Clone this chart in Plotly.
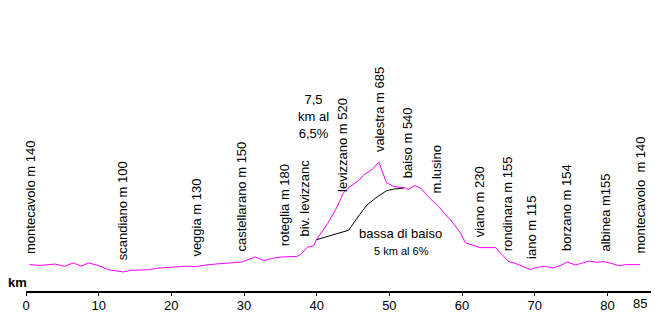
import plotly.graph_objects as go

# Main route profile (km, metres)
route_km = [0.5, 1.97, 4.03, 5.34, 6.5, 7.6, 8.6, 9.9, 11.4, 13.4, 14.35, 16.9, 18.0, 20.8,
            22.15, 23.3, 24.9, 26.7, 29.7, 31.55, 32.7, 34.1, 35.2, 37.3, 37.9, 38.7, 39.6,
            39.95, 41.5, 42.6, 43.7, 44.5, 45.3, 45.9, 46.5, 47.6, 48.55, 49.6, 50.6, 51.8,
            52.2, 52.6, 53.5, 54.4, 55.6, 56.8, 57.5, 58.4, 59.1, 59.8, 60.45, 61.4, 62.5,
            64.6, 66.4, 67.3, 69.4, 70.5, 71.5, 72.5, 73.6, 74.5, 75.6, 77.5, 78.5, 79.6,
            80.7, 81.7, 82.5, 84.5]
route_elev = [141, 137, 144, 132, 150, 133, 150, 137, 113, 102, 110, 114, 122, 127,
              133, 130, 140, 146, 155, 182, 162, 176, 182, 185, 199, 234, 242,
              274, 360, 435, 526, 555, 578, 595, 622, 649, 689, 579, 559, 551,
              551, 542, 565, 547, 494, 452, 417, 381, 345, 310, 258, 244, 232,
              232, 158, 148, 115, 128, 132, 123, 137, 155, 139, 160, 154, 157,
              146, 135, 141, 141]

# Alternative route via bassa di baiso
alt_km = [39.95, 44.4, 45.9, 46.9, 48.1, 49.6, 50.6, 52.05]
alt_elev = [274, 325, 408, 459, 497, 536, 545, 551]

# Place labels (vertical)
place_names = ["montecavolo m 140", "scandiano m 100", "veggia m 130", "castellarano m 150",
               "roteglia m 180", "biv. levizzanc", "levizzano m 520", "valestra m 685",
               "baiso m 540", "m.lusino", "viano m 230", "rondinara m 155", "iano m 115",
               "borzano m 154", "albinea m155", "montecavolo  m 140"]
place_km = [0.52, 13.39, 23.43, 29.59, 35.54, 38.39, 43.48, 48.66, 52.43, 56.53,
            62.42, 66.37, 69.58, 74.45, 79.68, 84.53]
place_label_base = [194, 158, 180, 206, 235, 283, 524, 738, 595, 515, 283, 206, 167,
                    206, 206, 194]

tick_vals = [0, 10, 20, 30, 40, 50, 60, 70, 80]
tick_text = ["0", "10", "20", "30", "40", "50", "60", "70", "80"]
end_label = "85"

FONT = "Liberation Sans, Arial, sans-serif"

fig = go.Figure()
fig.add_trace(go.Scatter(x=alt_km, y=alt_elev, mode="lines",
                         line=dict(color="#000000", width=1), hoverinfo="skip"))
fig.add_trace(go.Scatter(x=route_km, y=route_elev, mode="lines",
                         line=dict(color="#FF00FF", width=1), hoverinfo="skip"))

annotations = []
for name, xk, yb in zip(place_names, place_km, place_label_base):
    annotations.append(dict(x=xk, y=yb, xref="x", yref="y", text=name, textangle=-90,
                            showarrow=False, xanchor="center", yanchor="bottom",
                            font=dict(family=FONT, size=13, color="#000000"),
                            borderpad=0))

annotations.append(dict(x=39.58, y=935, xref="x", yref="y", text="7,5<br>km al<br>6,5%",
                        showarrow=False, xanchor="center", yanchor="middle",
                        font=dict(family=FONT, size=13, color="#000000")))
annotations.append(dict(x=51.58, y=305, xref="x", yref="y", text="bassa di baiso",
                        showarrow=False, xanchor="center", yanchor="middle",
                        font=dict(family=FONT, size=13, color="#000000")))
annotations.append(dict(x=51.62, y=212, xref="x", yref="y", text="5 km al 6%",
                        showarrow=False, xanchor="center", yanchor="middle",
                        font=dict(family=FONT, size=11, color="#000000")))
annotations.append(dict(x=-0.0139, y=0.0285, xref="paper", yref="paper", text="<b>km</b>",
                        showarrow=False, xanchor="center", yanchor="middle",
                        font=dict(family=FONT, size=13, color="#000000")))
annotations.append(dict(x=route_km[-1], y=0, xref="x", yref="y", text=end_label,
                        showarrow=False, xanchor="center", yanchor="top", yshift=-3,
                        font=dict(family=FONT, size=13, color="#000000")))

fig.update_layout(
    width=658, height=327,
    margin=dict(l=26, r=7, t=0, b=36),
    paper_bgcolor="#FFFFFF", plot_bgcolor="#FFFFFF",
    showlegend=False,
    annotations=annotations,
    xaxis=dict(range=[0, 86], tickvals=tick_vals, ticktext=tick_text,
               showgrid=False, zeroline=False, showline=True, linecolor="#000000",
               linewidth=2, ticks="outside", ticklen=3, tickwidth=1, tickcolor="#000000",
               ticklabelstandoff=-2,
               tickfont=dict(family=FONT, size=13, color="#000000")),
    yaxis=dict(range=[0, 1556], visible=False, showgrid=False, zeroline=False),
)

fig.write_html("out.html")
